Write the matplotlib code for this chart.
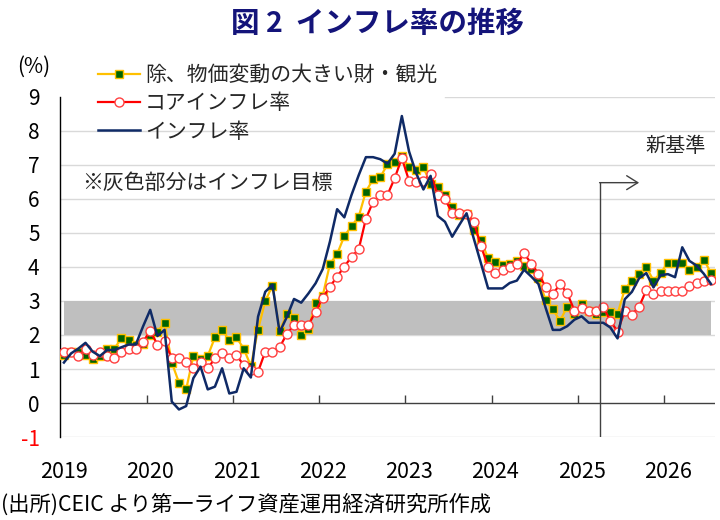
import numpy as np
import matplotlib
matplotlib.use('Agg')
import matplotlib.pyplot as plt

plt.rcParams['font.family'] = ['Noto Sans CJK JP', 'DejaVu Sans']

# 月次データ（2019年1月〜）
years = ['2019', '2020', '2021', '2022', '2023', '2024', '2025', '2026']

excl_volatile = [
    1.41, 1.50, 1.50, 1.41, 1.28, 1.38, 1.60, 1.60, 1.90, 1.85,
    1.70, 1.75, 2.00, 2.10, 2.36, 1.19, 0.60, 0.40, 1.38, 1.30,
    1.38, 1.93, 2.15, 1.85, 1.93, 1.60, 1.09, 2.16, 3.00, 3.45,
    2.13, 2.62, 2.50, 1.99, 2.17, 2.95, 3.16, 4.09, 4.38, 4.91,
    5.20, 5.48, 6.22, 6.58, 6.64, 7.02, 7.10, 7.26, 6.93, 6.86,
    6.93, 6.44, 6.36, 6.12, 5.77, 5.53, 5.56, 5.09, 4.79, 4.25,
    4.16, 4.05, 4.10, 4.18, 4.04, 3.95, 3.67, 3.02, 2.75, 2.42,
    2.83, 2.62, 2.92, 2.72, 2.62, 2.69, 2.69, 2.62, 3.34, 3.60,
    3.80, 4.00, 3.60, 3.82, 4.13, 4.13, 4.13, 3.91, 3.99, 4.22,
    3.82]

core = [
    1.51, 1.51, 1.38, 1.58, 1.40, 1.51, 1.38, 1.31, 1.51, 1.60,
    1.60, 1.80, 2.12, 1.72, 1.82, 1.31, 1.31, 1.22, 1.02, 1.22,
    1.02, 1.31, 1.48, 1.31, 1.40, 1.12, 0.98, 0.92, 1.51, 1.51,
    1.64, 2.03, 2.29, 2.29, 2.29, 2.69, 3.10, 3.42, 3.72, 4.01,
    4.30, 4.52, 5.42, 5.92, 6.12, 6.12, 6.61, 7.20, 6.54, 6.51,
    6.54, 6.74, 6.12, 5.99, 5.60, 5.58, 5.56, 5.32, 4.62, 4.01,
    3.81, 3.90, 4.00, 4.09, 4.40, 4.10, 3.80, 3.42, 3.20, 3.50,
    3.23, 2.72, 2.80, 2.72, 2.72, 2.83, 2.42, 2.10, 2.70, 2.60,
    2.83, 3.32, 3.22, 3.30, 3.30, 3.30, 3.30, 3.43, 3.52, 3.60,
    3.61]

headline = [
    1.19, 1.46, 1.60, 1.77, 1.51, 1.38, 1.56, 1.56, 1.64, 1.72,
    1.72, 2.25, 2.74, 1.97, 2.15, 0.04, -0.19, -0.09, 0.73, 1.07,
    0.40, 0.48, 1.02, 0.28, 0.33, 1.02, 0.75, 2.54, 3.27, 3.48,
    2.08, 2.53, 3.06, 2.95, 3.22, 3.52, 3.94, 4.75, 5.70, 5.46,
    6.12, 6.70, 7.23, 7.23, 7.17, 7.04, 7.33, 8.44, 7.40, 6.75,
    6.28, 6.68, 5.50, 5.33, 4.89, 5.24, 5.58, 4.84, 4.11, 3.37,
    3.37, 3.37, 3.53, 3.60, 3.92, 3.72, 3.50, 2.80, 2.15, 2.15,
    2.26, 2.45, 2.55, 2.36, 2.36, 2.36, 2.22, 1.90, 3.05, 3.27,
    3.67, 3.82, 3.40, 3.76, 3.79, 3.70, 4.58, 4.18, 4.04, 3.80,
    3.50]

target_low, target_high = 2, 3
new_base_pos = 74.5  # 新基準の開始位置（月インデックス境界）

n = len(headline)
x = np.arange(n)

fig = plt.figure(figsize=(7.2, 5.2), dpi=100)
ax = fig.add_axes([0.0838, 0.1596, 0.9087, 0.6539])

# グリッド
for v in range(-1, 9):
    if v != 0:
        ax.axhline(v, color='#D9D9D9', lw=1.0, zorder=0)
ax.axhline(9, xmin=0.588, xmax=1, color='#D9D9D9', lw=1.0, zorder=0)

# インフレ目標帯
ax.fill_between(x, target_low, target_high, color='#BFBFBF', lw=0, zorder=1)

# ゼロ線と年境界の目盛り
ax.axhline(0, color='#404040', lw=1.0, zorder=2)
bounds = np.arange(11.5, n, 12)
ax.vlines(bounds, 0, 0.25, color='#404040', lw=1.0, zorder=2)

ax.plot(x, excl_volatile, color='#FFC000', lw=1.6, marker='s', ms=6,
        mfc='#006400', mec='#FFC000', mew=1.0, zorder=3,
        label='除、物価変動の大きい財・観光')
ax.plot(x, core, color='#FF0000', lw=1.6, marker='o', ms=6.5,
        mfc='white', mec='#FF4040', mew=1.0, zorder=4,
        label='コアインフレ率')
ax.plot(x, headline, color='#0F2A66', lw=1.8, zorder=5, label='インフレ率')

# 新基準
ax.plot([new_base_pos, new_base_pos], [-1, 6.48], color='#404040', lw=1.0, zorder=6)
ax.annotate('', xy=(80.0, 6.48), xytext=(new_base_pos, 6.48),
            arrowprops=dict(arrowstyle='->, head_length=0.8, head_width=0.5',
                            color='#404040', lw=1.0, shrinkA=0, shrinkB=0),
            zorder=6)
ax.text(85.1, 7.53, '新基準', fontsize=14.5, color='#262626',
        ha='center', va='center')

ax.text(2.6, 6.47, '※灰色部分はインフレ目標', fontsize=15, color='#262626',
        ha='left', va='center')

ax.set_xlim(-0.5, n - 0.5)
ax.set_ylim(-1, 9)
ax.set_yticks(range(-1, 10))
ax.set_yticklabels([str(v) for v in range(-1, 10)])
ax.get_yticklabels()[0].set_color('red')
ax.tick_params(axis='y', length=0, pad=15, labelsize=15)
ax.set_xticks(np.arange(0, n, 12))
ax.set_xticklabels(years)
ax.tick_params(axis='x', length=0, pad=17, labelsize=15.5)

for s in ['top', 'right', 'bottom']:
    ax.spines[s].set_visible(False)
ax.spines['left'].set_color('black')
ax.spines['left'].set_linewidth(1.0)

leg = ax.legend(loc='upper left', bbox_to_anchor=(98 / 720, 1 - 64 / 520),
                bbox_transform=fig.transFigure, frameon=False, fontsize=15,
                handlelength=2.0, handletextpad=0.25, labelspacing=0.3,
                borderpad=0, borderaxespad=0)
for t in leg.get_texts():
    t.set_color('#262626')

fig.text(34 / 720, 1 - 67 / 520, '(%)', fontsize=15, ha='center', va='center')
fig.text(377 / 720, 1 - 24 / 520, '図 2  インフレ率の推移', fontsize=20.5,
         fontweight='bold', color='#14147A', ha='center', va='center')
fig.text(0.002, 1 - 505 / 520, '(出所)CEIC より第一ライフ資産運用経済研究所作成',
         fontsize=15.3, ha='left', va='center')

fig.savefig('out.png', dpi=100)
